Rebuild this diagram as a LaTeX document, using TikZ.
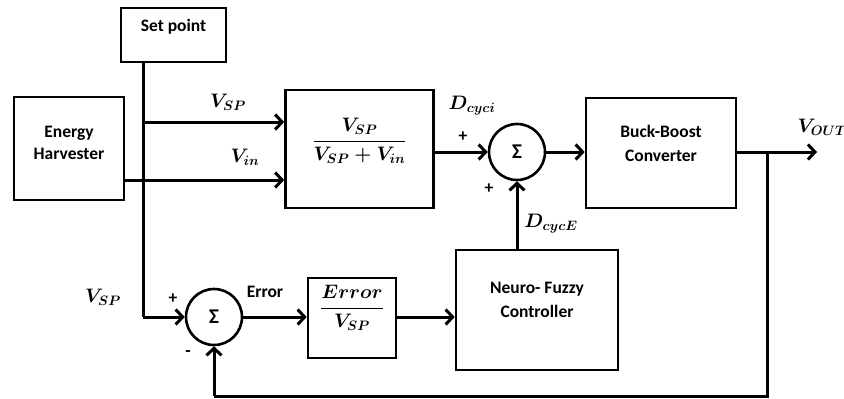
\documentclass[tikz,border=0pt]{standalone}
\usepackage{fix-cm}
\usepackage{amsmath}
\usepackage{fontspec}
\setmainfont{Carlito}
\usetikzlibrary{arrows.meta}
\begin{document}
\begin{tikzpicture}[x=1pt,y=-1pt,
  every node/.style={font=\fontsize{17.5}{20}\selectfont\bfseries\boldmath},
  mth/.style={font=\fontsize{19.5}{22}\selectfont\bfseries\boldmath},
  blk/.style={draw,line width=2.6pt,inner sep=0pt},
  sumc/.style={draw,circle,line width=2.6pt,minimum size=56pt,inner sep=0pt,font=\fontsize{21}{24}\selectfont\bfseries},
  ln/.style={line width=3pt},
  arr/.style={line width=3pt,-{Straight Barb[length=7pt,width=15pt,line width=3pt]}},
  lbl/.style={inner sep=0pt}]
\useasboundingbox (0,0) rectangle (844,399);
% blocks
\node[blk,minimum width=105pt,minimum height=54pt,label={[lbl,yshift=8pt]center:Set point}] (sp) at (173.5,35) {};
\node[blk,minimum width=110pt,minimum height=103pt,label={[lbl,align=center,yshift=6pt]center:Energy\\[2pt]Harvester}] (eh) at (69,148.5) {};
\node[blk,minimum width=148pt,minimum height=118pt,label={[lbl,mth,yshift=8pt]center:$\dfrac{V_{SP}}{V_{SP}+V_{in}}$}] (fr) at (359.5,149) {};
\node[sumc] (s1) at (517,152) {Σ};
\node[blk,minimum width=150pt,minimum height=110pt,label={[lbl,align=center,yshift=10pt]center:Buck-Boost\\[4pt]Converter}] (bb) at (661,153) {};
\node[blk,minimum width=162pt,minimum height=120pt,label={[lbl,align=center,yshift=10pt]center:Neuro- Fuzzy\\[4pt]Controller}] (nf) at (537,310) {};
\node[blk,minimum width=88pt,minimum height=80pt,label={[lbl,mth,yshift=10pt]center:$\dfrac{Error}{V_{SP}}$}] (fe) at (352,318) {};
\node[sumc] (s2) at (214,317) {Σ};
% coordinates
\coordinate (j1) at (143,122);
\coordinate (j2) at (143,317);
\coordinate (vin) at (0,180);
\coordinate (br) at (767,152);
\coordinate (vo) at (817,152);
\coordinate (fb1) at (767,396);
\coordinate (fb2) at (214,396);
% connectors
\draw[ln] (sp.south -| j1) -- (j2);
\draw[arr] (j2) -- (s2.west);
\draw[arr] (j1) -- (fr.west |- j1);
\draw[arr] (eh.east |- vin) -- (fr.west |- vin);
\draw[arr] (fr.east |- s1) -- (s1.west);
\draw[arr] (s1.east) -- (bb.west |- s1);
\draw[arr] (bb.east |- br) -- (vo);
\draw[ln] (br) -- (fb1) -- (fb2);
\draw[arr] (fb2) -- (s2.south);
\draw[arr] (s2.east) -- (fe.west |- s2);
\draw[arr] (fe.east |- s2) -- (nf.west |- s2);
\draw[arr] (nf.north -| s1) -- (s1.south);
% labels
\node[lbl,mth] (l1) at (228,102) {$V_{SP}$};
\node[lbl,mth] (l2) at (245,157) {$V_{in}$};
\node[lbl,mth] (l3) at (472,106) {$D_{cyci}$};
\node[lbl] (l4) at (463,137) {+};
\node[lbl] (l5) at (489,189) {+};
\node[lbl,mth] (l6) at (551,224) {$D_{cycE}$};
\node[lbl,mth] (l7) at (822,127) {$V_{OUT}$};
\node[lbl,mth] (l8) at (103,297) {$V_{SP}$};
\node[lbl] (l9) at (173,299) {+};
\node[lbl] (l10) at (188,354) {-};
\node[lbl] (l11) at (265,292) {Error};
\end{tikzpicture}
\end{document}
